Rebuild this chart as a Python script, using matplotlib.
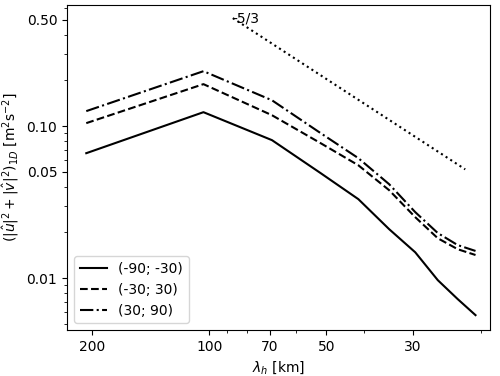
import numpy as np
import matplotlib
matplotlib.use('Agg')
import matplotlib.pyplot as plt
from matplotlib.ticker import FixedLocator, FixedFormatter, LogLocator, NullFormatter

# wavelengths (km)
lam = 414.0 / np.array([2, 4, 6, 8, 10, 12, 14, 16, 18, 20])

# spectra per latitude band
e_south = [0.0664, 0.1236, 0.0809, 0.0491, 0.0331, 0.0210, 0.0148, 0.0097, 0.00728, 0.00571]
e_mid = [0.1047, 0.189, 0.118, 0.0773, 0.0553, 0.0379, 0.0252, 0.0183, 0.0155, 0.0142]
e_north = [0.1256, 0.230, 0.148, 0.0900, 0.0616, 0.0415, 0.0272, 0.0198, 0.0165, 0.0151]
labels = ['(-90; -30)', '(-30; 30)', '(30; 90)']

# -5/3 reference slope
lam_ref = np.array([87.0, 22.0])
e_ref = 0.514 * (lam_ref / lam_ref[0]) ** (5.0 / 3.0)

fig, ax = plt.subplots(figsize=(5, 3.76), dpi=100)
fig.subplots_adjust(left=0.134, right=0.98, top=0.987, bottom=0.122)

ax.plot(lam, e_south, 'k-', lw=1.5, label=labels[0])
ax.plot(lam, e_mid, 'k--', lw=1.5, label=labels[1])
ax.plot(lam, e_north, 'k-.', lw=1.5, label=labels[2])
ax.plot(lam_ref, e_ref, 'k:', lw=1.5)
ax.text(lam_ref[0], 0.483, '-5/3', fontsize=10)

ax.set_xscale('log')
ax.set_yscale('log')
ax.set_xlim(232, 19)
ax.set_ylim(0.00455, 0.628)

xt = [200, 100, 70, 50, 30]
ax.xaxis.set_major_locator(FixedLocator(xt))
ax.xaxis.set_major_formatter(FixedFormatter([str(v) for v in xt]))
ax.xaxis.set_minor_locator(LogLocator(subs=np.arange(2, 10)))
ax.xaxis.set_minor_formatter(NullFormatter())

yt = [0.01, 0.05, 0.10, 0.50]
ax.yaxis.set_major_locator(FixedLocator(yt))
ax.yaxis.set_major_formatter(FixedFormatter(['0.01', '0.05', '0.10', '0.50']))
ax.yaxis.set_minor_locator(LogLocator(subs=np.arange(2, 10)))
ax.yaxis.set_minor_formatter(NullFormatter())

ax.set_xlabel(r'$\lambda_h$ [km]')
ax.set_ylabel(r'$(|\hat{u}|^2 + |\hat{v}|^2)_{1D}$ [m$^2$s$^{-2}$]')
ax.legend(loc='lower left')

fig.savefig('out.png', dpi=100)
